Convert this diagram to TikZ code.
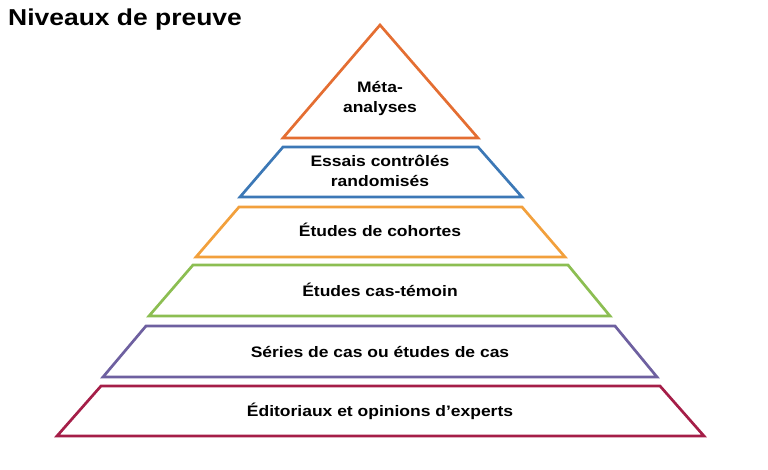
\documentclass[tikz,border=0pt]{standalone}
\usepackage{fontspec}
\setmainfont{Liberation Sans}[FakeStretch=1.15]

\definecolor{metaorange}{RGB}{228,110,50}
\definecolor{ecrblue}{RGB}{60,120,182}
\definecolor{cohorange}{RGB}{242,160,60}
\definecolor{ctgreen}{RGB}{140,190,82}
\definecolor{seriespurple}{RGB}{110,96,160}
\definecolor{editred}{RGB}{165,30,72}

\begin{document}
\begin{tikzpicture}[x=1pt, y=-1pt,
    tier/.style={line width=2.7pt, line join=miter},
    lbl/.style={font=\bfseries\fontsize{15.2}{20}\selectfont, align=center, inner sep=0, anchor=base}]
    \useasboundingbox (0,0) rectangle (768,470);
    \node[anchor=base west, inner sep=0, font=\bfseries\fontsize{23}{27}\selectfont] (title) at (8,26) {Niveaux de preuve};

    % sommet
    \draw[tier, metaorange] (380,25) -- (478,138) -- (283,138) -- cycle;
    \node[lbl] (meta) at (380,113) {Méta-\\analyses};

    \draw[tier, ecrblue] (283,147) -- (478,147) -- (522,197) -- (240,197) -- cycle;
    \node[lbl] (ecr) at (380,187) {Essais contrôlés\\randomisés};

    \draw[tier, cohorange] (239,207) -- (522,207) -- (565,257) -- (196,257) -- cycle;
    \node[lbl] (cohorte) at (380,237) {Études de cohortes};

    \draw[tier, ctgreen] (193,265) -- (568,265) -- (610,316) -- (149,316) -- cycle;
    \node[lbl] (temoin) at (380,297) {Études cas-témoin};

    \draw[tier, seriespurple] (146,326) -- (615,326) -- (657,377) -- (103,377) -- cycle;
    \node[lbl] (series) at (380,357) {Séries de cas ou études de cas};

    % base
    \draw[tier, editred] (101,386) -- (660,386) -- (704,436) -- (57,436) -- cycle;
    \node[lbl] (edito) at (380,416) {Éditoriaux et opinions d’experts};
\end{tikzpicture}
\end{document}
